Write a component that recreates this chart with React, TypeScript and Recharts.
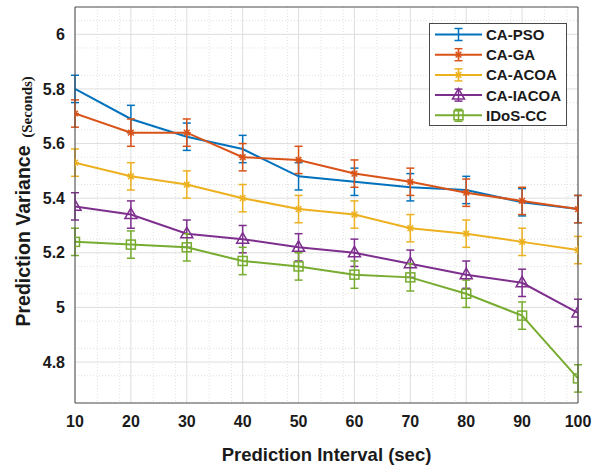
import React from 'react';
import { LineChart, Line, XAxis, YAxis, CartesianGrid, ErrorBar, Legend, Label } from 'recharts';

const intervals = [10, 20, 30, 40, 50, 60, 70, 80, 90, 100];
const caPso = [5.80, 5.69, 5.625, 5.58, 5.48, 5.46, 5.44, 5.43, 5.385, 5.36];
const caGa = [5.71, 5.64, 5.64, 5.55, 5.54, 5.49, 5.46, 5.42, 5.39, 5.36];
const caAcoa = [5.53, 5.48, 5.45, 5.40, 5.36, 5.34, 5.29, 5.27, 5.24, 5.21];
const caIacoa = [5.37, 5.34, 5.27, 5.25, 5.22, 5.20, 5.16, 5.12, 5.09, 4.98];
const idosCc = [5.24, 5.23, 5.22, 5.17, 5.15, 5.12, 5.11, 5.05, 4.97, 4.74];
const errPso = [0.05, 0.05, 0.05, 0.05, 0.05, 0.05, 0.05, 0.05, 0.05, 0.05];
const errGa = [0.05, 0.05, 0.05, 0.05, 0.05, 0.05, 0.05, 0.05, 0.05, 0.05];
const errAcoa = [0.05, 0.05, 0.05, 0.05, 0.05, 0.05, 0.05, 0.05, 0.05, 0.05];
const errIacoa = [0.05, 0.05, 0.05, 0.05, 0.05, 0.05, 0.05, 0.05, 0.05, 0.05];
const errIdos = [0.05, 0.05, 0.05, 0.05, 0.05, 0.05, 0.05, 0.05, 0.05, 0.05];

const xTicks = [10, 20, 30, 40, 50, 60, 70, 80, 90, 100];
const yTicks = [4.8, 5, 5.2, 5.4, 5.6, 5.8, 6];
const minorX = [12, 14, 16, 18, 22, 24, 26, 28, 32, 34, 36, 38, 42, 44, 46, 48, 52, 54, 56, 58, 62, 64, 66, 68, 72, 74, 76, 78, 82, 84, 86, 88, 92, 94, 96, 98];
const minorY = [4.65, 4.7, 4.75, 4.85, 4.9, 4.95, 5.05, 5.1, 5.15, 5.25, 5.3, 5.35, 5.45, 5.5, 5.55, 5.65, 5.7, 5.75, 5.85, 5.9, 5.95, 6.05];

const xLabel = 'Prediction Interval (sec)';
const yLabelMain = 'Prediction Variance';
const yLabelUnit = '(Seconds)';

const series = [
  { key: 'pso', err: 'psoErr', name: 'CA-PSO', color: '#0072BD', marker: 'none', values: caPso, errs: errPso },
  { key: 'ga', err: 'gaErr', name: 'CA-GA', color: '#D95319', marker: 'star', values: caGa, errs: errGa },
  { key: 'acoa', err: 'acoaErr', name: 'CA-ACOA', color: '#EDB120', marker: 'star', values: caAcoa, errs: errAcoa },
  { key: 'iacoa', err: 'iacoaErr', name: 'CA-IACOA', color: '#7E2F8E', marker: 'triangle', values: caIacoa, errs: errIacoa },
  { key: 'idos', err: 'idosErr', name: 'IDoS-CC', color: '#77AC30', marker: 'square', values: idosCc, errs: errIdos },
];

const data = intervals.map((x, i) => {
  const row: any = { x };
  series.forEach((s) => {
    row[s.key] = s.values[i];
    row[s.err] = s.errs[i];
  });
  return row;
});

const FONT = '"Liberation Sans", Arial, Helvetica, sans-serif';
const AXIS = '#4a4a4a';

function Marker({ cx, cy, type, color }: any) {
  if (type === 'star') {
    const r = 4;
    const d = r * 0.707;
    return (
      <g stroke={color} strokeWidth={1.5}>
        <line x1={cx - r} y1={cy} x2={cx + r} y2={cy} />
        <line x1={cx} y1={cy - r} x2={cx} y2={cy + r} />
        <line x1={cx - d} y1={cy - d} x2={cx + d} y2={cy + d} />
        <line x1={cx - d} y1={cy + d} x2={cx + d} y2={cy - d} />
      </g>
    );
  }
  if (type === 'triangle') {
    return (
      <path d={`M${cx},${cy - 6.5} L${cx + 6},${cy + 4} L${cx - 6},${cy + 4} Z`} fill="none" stroke={color} strokeWidth={1.5} />
    );
  }
  if (type === 'square') {
    return <rect x={cx - 4.5} y={cy - 4.5} width={9} height={9} fill="none" stroke={color} strokeWidth={1.5} />;
  }
  return null;
}

const renderLegend = () => (
  <div style={{ width: 138, height: 103, border: `1px solid ${AXIS}`, background: '#fff', boxSizing: 'border-box' }}>
    <svg width={136} height={101} style={{ display: 'block' }}>
      {series.map((s, i) => {
        const cy = 10.5 + i * 20.2;
        const cx = 28.5;
        return (
          <g key={s.key}>
            <line x1={5} x2={52} y1={cy} y2={cy} stroke={s.color} strokeWidth={2} />
            <g stroke={s.color} strokeWidth={1.5}>
              <line x1={cx} x2={cx} y1={cy - 6} y2={cy + 6} />
              <line x1={cx - 4} x2={cx + 4} y1={cy - 6} y2={cy - 6} />
              <line x1={cx - 4} x2={cx + 4} y1={cy + 6} y2={cy + 6} />
            </g>
            <Marker cx={cx} cy={cy} type={s.marker} color={s.color} />
            <text x={56} y={cy} dominantBaseline="central" fontSize={15} fontWeight="bold" fontFamily={FONT} fill="#1a1a1a">
              {s.name}
            </text>
          </g>
        );
      })}
    </svg>
  </div>
);

const YLabel = (props: any) => {
  const cx1 = 23;
  const cy1 = 236;
  const cx2 = 27;
  const cy2 = 107;
  return (
    <g>
      <text
        x={cx1}
        y={cy1}
        transform={`rotate(-90 ${cx1} ${cy1})`}
        textAnchor="middle"
        dominantBaseline="central"
        fontSize={19.5}
        fontWeight="bold"
        fontFamily={FONT}
        fill="#1a1a1a"
      >
        {yLabelMain}
      </text>
      <text
        x={cx2}
        y={cy2}
        transform={`rotate(-90 ${cx2} ${cy2})`}
        textAnchor="middle"
        dominantBaseline="central"
        fontSize={15}
        fontWeight="bold"
        fontFamily='"Liberation Serif", "DejaVu Serif", serif'
        fill="#1a1a1a"
      >
        {yLabelUnit}
      </text>
    </g>
  );
};

export default function App() {
  return (
    <div style={{ position: 'absolute', left: 0, top: 0, width: 592, height: 468, background: '#fff' }}>
      <LineChart width={592} height={468} data={data} margin={{ top: 7, right: 14, bottom: 35, left: 15 }}>
        <CartesianGrid
          horizontalValues={minorY}
          verticalValues={minorX}
          stroke="#e0e0e0"
          strokeDasharray="1 2"
          strokeWidth={1}
        />
        <CartesianGrid horizontalValues={yTicks} verticalValues={xTicks} stroke="#dedede" strokeWidth={1} />
        <XAxis
          dataKey="x"
          type="number"
          domain={[10, 100]}
          ticks={xTicks}
          allowDataOverflow
          height={30}
          tickLine={false}
          tickSize={0}
          tickMargin={13}
          axisLine={{ stroke: AXIS }}
          tick={{ fill: '#1a1a1a', fontSize: 16, fontWeight: 'bold', fontFamily: FONT }}
        >
          <Label
            value={xLabel}
            position="bottom"
            offset={15}
            style={{ fontSize: 18.5, fontWeight: 'bold', fontFamily: FONT, fill: '#1a1a1a' }}
          />
        </XAxis>
        <XAxis
          xAxisId="top"
          orientation="top"
          mirror
          dataKey="x"
          type="number"
          domain={[10, 100]}
          ticks={xTicks}
          allowDataOverflow
          tick={false}
          tickSize={5}
          tickLine={{ stroke: AXIS }}
          axisLine={{ stroke: AXIS }}
        />
        <XAxis
          xAxisId="bm"
          orientation="bottom"
          mirror
          dataKey="x"
          type="number"
          domain={[10, 100]}
          ticks={xTicks}
          allowDataOverflow
          tick={false}
          tickSize={5}
          tickLine={{ stroke: AXIS }}
          axisLine={false}
        />
        <YAxis
          type="number"
          domain={[4.65, 6.1]}
          ticks={yTicks}
          allowDataOverflow
          width={60}
          tickLine={false}
          tickSize={0}
          tickMargin={10}
          axisLine={{ stroke: AXIS }}
          tick={{ fill: '#1a1a1a', fontSize: 16, fontWeight: 'bold', fontFamily: FONT }}
        >
          <Label content={YLabel} />
        </YAxis>
        <YAxis
          yAxisId="r"
          orientation="right"
          mirror
          type="number"
          domain={[4.65, 6.1]}
          ticks={yTicks}
          allowDataOverflow
          tick={false}
          tickSize={5}
          tickLine={{ stroke: AXIS }}
          axisLine={{ stroke: AXIS }}
        />
        <YAxis
          yAxisId="lm"
          orientation="left"
          mirror
          type="number"
          domain={[4.65, 6.1]}
          ticks={yTicks}
          allowDataOverflow
          tick={false}
          tickSize={5}
          tickLine={{ stroke: AXIS }}
          axisLine={false}
        />
        <Legend
          layout="vertical"
          align="center"
          verticalAlign="middle"
          content={renderLegend}
          wrapperStyle={{ left: 429, top: 23, width: 138, height: 103 }}
        />
        {series.map((s) => (
          <Line
            key={s.key}
            dataKey={s.key}
            name={s.name}
            stroke={s.color}
            strokeWidth={2}
            isAnimationActive={false}
            dot={
              s.marker === 'none'
                ? false
                : (p: any) => <Marker key={`${s.key}-${p.index}`} cx={p.cx} cy={p.cy} type={s.marker} color={s.color} />
            }
            activeDot={false}
          >
            <ErrorBar dataKey={s.err} width={4} stroke={s.color} strokeWidth={1.5} direction="y" isAnimationActive={false} />
          </Line>
        ))}
      </LineChart>
    </div>
  );
}
